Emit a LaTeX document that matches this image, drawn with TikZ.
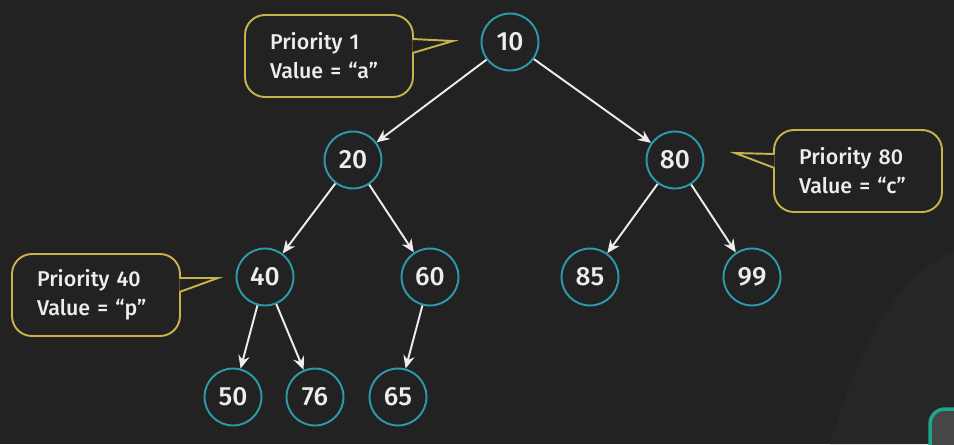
\documentclass[tikz,border=0pt]{standalone}
\usepackage{fontspec}
\setmainfont{Fira Sans Medium}
\usetikzlibrary{calc, arrows.meta}

\definecolor{bgdark}{HTML}{222222}
\definecolor{bglight}{HTML}{262626}
\definecolor{keyring}{HTML}{2B9BAA}
\definecolor{noteedge}{HTML}{C9B24A}
\definecolor{keytext}{HTML}{EDEDED}
\definecolor{camedge}{HTML}{1FA58A}
\definecolor{camfill}{HTML}{464646}

\begin{document}
\begin{tikzpicture}[x=0.02cm, y=-0.02cm]
  \newcommand\tailtop{-17}
  \newcommand\tailbot{-3}

  \tikzset{keynode/.style={circle, draw=keyring, line width=1.1pt, minimum size=1.14cm, inner sep=0pt, text=keytext, font=\fontsize{15}{15}\selectfont}}
  \tikzset{note/.style={draw=noteedge, fill=bgdark, line width=1.1pt, rounded corners=0.4cm, minimum width=3.36cm, minimum height=1.64cm, inner xsep=0.5cm, text width=2.36cm, align=left, text=keytext, font=\fontsize{12.2}{16.4}\selectfont}}
  \tikzset{notetail/.style={draw=noteedge, fill=bgdark, line width=1.1pt, line join=miter}}
  \tikzset{ptr/.style={-{Stealth[length=7.4pt, width=6.4pt]}, line width=1.1pt, draw=keytext, fill=keytext}}

  % background
  \useasboundingbox (0,0) rectangle (954,444);
  \fill[bgdark] (0,0) rectangle (954,444);
  \fill[bglight] (954,250) .. controls (900,275) and (860,340) .. (830,444) -- (954,444) -- cycle;
  \begin{scope}
    \clip (0,0) rectangle (954,444);
    \draw[draw=camedge, fill=camfill, line width=2pt, rounded corners=0.3cm] (930,409) rectangle (1000,500);
  \end{scope}

  % heap keys
  \foreach \key/\px/\py in {10/510/42, 20/353/160, 80/675/160, 40/265/277, 60/430/277, 85/590/277, 99/752/277, 50/233/397, 76/315/397, 65/398/397}{
    \node[keynode] (k\key) at (\px,\py) {\key};
  }
  \foreach \parent/\child in {10/20, 10/80, 20/40, 20/60, 80/85, 80/99, 40/50, 40/76, 60/65}{
    \draw[ptr] (k\parent) -- (k\child);
  }

  % notes
  \node[note] (note10) at (329,56) {Priority 1\\Value = “a”};
  \node[note] (note80) at (858,171) {Priority 80\\Value = “c”};
  \node[note] (note40) at (96,295) {Priority 40\\Value = “p”};
  \foreach \name/\side/\dx/\tx/\ty in {note10/east/-1.5/453/41, note80/west/1.5/735/153, note40/east/-1.5/218/278}{
    \coordinate (tip-\name) at (\tx,\ty);
    \filldraw[notetail] ($(\name.\side)+(\dx,\tailtop)$) -- (tip-\name) -- ($(\name.\side)+(\dx,\tailbot)$);
  }
\end{tikzpicture}
\end{document}
